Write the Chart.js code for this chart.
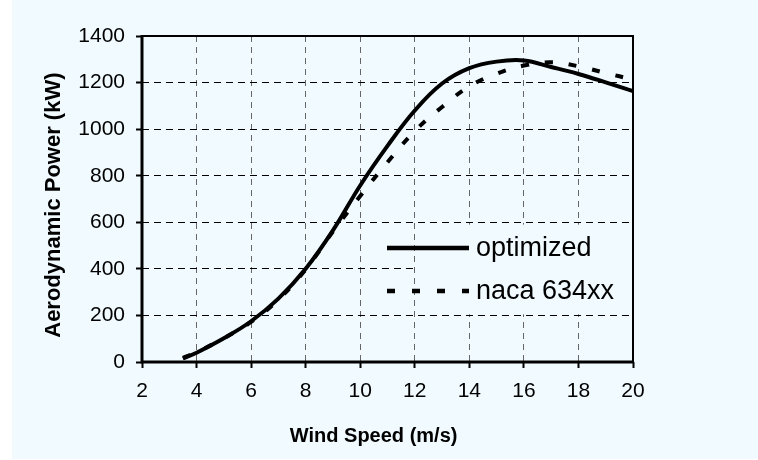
<!DOCTYPE html>
<html>
<head>
<meta charset="utf-8">
<script src="https://cdn.jsdelivr.net/npm/chart.js@4.4.1/dist/chart.umd.min.js"></script>
<style>
  html, body { margin: 0; padding: 0; background: #ffffff; }
  #wrap { position: absolute; left: 12px; top: 0; width: 746px; height: 459px; background: #F0FAFF; }
  canvas { display: block; }
</style>
</head>
<body>
<div id="wrap"><canvas id="c" width="746" height="459"></canvas></div>
<script>
const windSpeed = [3.5, 4, 5, 6, 7, 8, 9, 10, 11, 12, 13, 14, 15, 16, 17, 18, 19, 20];
const optimized = [15, 40, 102, 175, 272, 400, 565, 758, 928, 1080, 1196, 1262, 1290, 1295, 1267, 1237, 1201, 1163];
const naca634xx = [18, 42, 102, 172, 268, 398, 560, 713, 858, 992, 1095, 1184, 1238, 1273, 1287, 1270, 1241, 1213];
const seriesLabels = ['optimized', 'naca 634xx'];
const xTitle = 'Wind Speed (m/s)';
const yTitle = 'Aerodynamic Power (kW)';

const BG = '#F0FAFF';
const FONT = "'Liberation Sans', Arial, sans-serif";

const legendPlugin = {
  id: 'insideLegend',
  afterDatasetsDraw(chart) {
    const ctx = chart.ctx;
    const xs = chart.scales.x, ys = chart.scales.y;
    ctx.save();
    ctx.fillStyle = BG;
    const x0 = xs.getPixelForValue(12.1), x1 = chart.chartArea.right - 2;
    const y0 = ys.getPixelForValue(590), y1 = ys.getPixelForValue(205);
    ctx.fillRect(x0, y0, x1 - x0, y1 - y0);
    const rows = [
      { label: chart.data.datasets[0].label, dash: [], y: 248 },
      { label: chart.data.datasets[1].label, dash: [8, 17], y: 291 }
    ];
    rows.forEach(r => {
      ctx.beginPath();
      ctx.setLineDash(r.dash);
      ctx.lineWidth = 4.5;
      ctx.strokeStyle = '#000';
      ctx.moveTo(375, r.y);
      ctx.lineTo(457, r.y);
      ctx.stroke();
      ctx.setLineDash([]);
      ctx.fillStyle = '#000';
      ctx.font = '27px ' + FONT;
      ctx.textBaseline = 'middle';
      ctx.textAlign = 'left';
      ctx.fillText(r.label, 464, r.y + 1);
    });
    ctx.restore();
  },
  afterDraw(chart) {
    const ctx = chart.ctx;
    const a = chart.chartArea;
    ctx.save();
    ctx.strokeStyle = '#000';
    ctx.lineWidth = 2;
    ctx.beginPath();
    ctx.moveTo(a.left, a.top); ctx.lineTo(a.right, a.top); ctx.lineTo(a.right, a.bottom);
    ctx.stroke();
    ctx.lineWidth = 3;
    ctx.beginPath();
    ctx.moveTo(a.left, a.top - 1); ctx.lineTo(a.left, a.bottom); ctx.lineTo(a.right + 1, a.bottom);
    ctx.stroke();
    ctx.restore();
  }
};

new Chart(document.getElementById('c'), {
  type: 'line',
  data: {
    labels: windSpeed,
    datasets: [
      {
        label: seriesLabels[0],
        data: windSpeed.map((x, i) => ({ x: x, y: optimized[i] })),
        borderColor: '#000', borderWidth: 4, pointRadius: 0,
        tension: 0.4, fill: false
      },
      {
        label: seriesLabels[1],
        data: windSpeed.map((x, i) => ({ x: x, y: naca634xx[i] })),
        borderColor: '#000', borderWidth: 4, borderDash: [8, 16], pointRadius: 0,
        tension: 0.4, fill: false
      }
    ]
  },
  options: {
    responsive: false,
    animation: false,
    events: [],
    layout: { padding: { left: 0, top: 36, right: 125, bottom: 0 } },
    plugins: { legend: { display: false }, tooltip: { enabled: false } },
    scales: {
      x: {
        type: 'linear', min: 2, max: 20,
        afterFit(s) { s.height = 97; },
        ticks: { stepSize: 2, color: '#000', padding: 11, font: { family: FONT, size: 21 }, callback: (v) => String(v) },
        grid: {
          color: (c) => (c.tick && (c.tick.value === 2 || c.tick.value === 20)) ? 'rgba(0,0,0,0)' : '#666',
          lineWidth: 1, drawTicks: true, tickLength: 6, tickColor: '#000', tickWidth: 2
        },
        border: { display: false, dash: [6, 5] },
        title: { display: true, text: xTitle + '\u00a0\u00a0\u00a0\u00a0\u00a0', color: '#000', padding: { top: 0, bottom: 11 }, font: { family: FONT, size: 20, weight: 'bold' } }
      },
      y: {
        min: 0, max: 1400,
        afterFit(s) { s.width = 130; },
        ticks: { stepSize: 200, color: '#000', padding: 11, font: { family: FONT, size: 21 }, callback: (v) => String(v) },
        grid: {
          color: (c) => (c.tick && (c.tick.value === 0 || c.tick.value === 1400)) ? 'rgba(0,0,0,0)' : '#000',
          lineWidth: 1, drawTicks: true, tickLength: 6, tickColor: '#000', tickWidth: 2
        },
        border: { display: false, dash: [7, 5] },
        title: { display: true, text: yTitle + '\u00a0\u00a0', color: '#000', padding: { top: 29, bottom: 0 }, font: { family: FONT, size: 22, weight: 'bold' } }
      }
    }
  },
  plugins: [legendPlugin]
});
</script>
</body>
</html>
